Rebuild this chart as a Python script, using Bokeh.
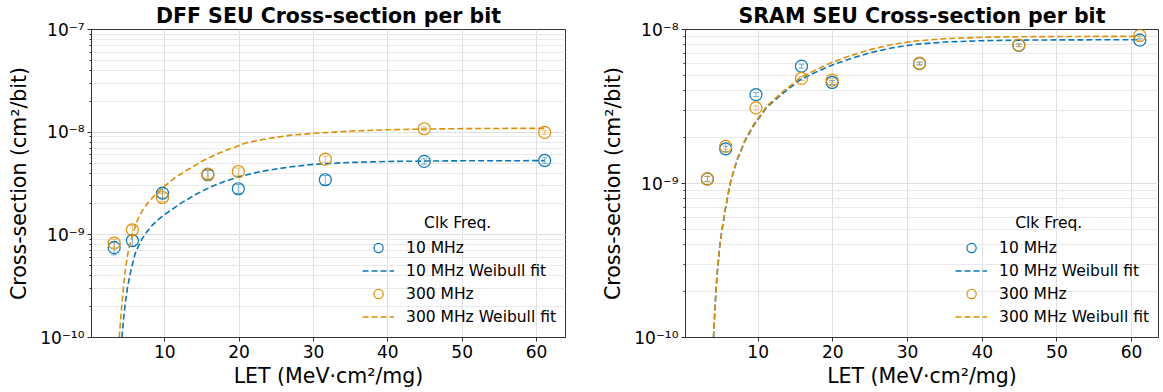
from bokeh.plotting import figure
from bokeh.layouts import row
from bokeh.models import (ColumnDataSource, Whisker, Label, LogTicker, FixedTicker,
                          CustomJSTickFormatter, Range1d, Legend, LegendItem, TeeHead)
from bokeh.embed import file_html
from bokeh.resources import INLINE

# ---------------- data ----------------
LET = [3.2, 5.65, 9.7, 15.8, 19.9, 31.6, 44.9, 61.1]
X_TICKS = [10, 20, 30, 40, 50, 60]

# DFF measured cross-sections (cm^2/bit)
DFF_10MHZ = [7.5e-10, 8.8e-10, 2.55e-9, 3.85e-9, 2.81e-9, 3.44e-9, 5.19e-9, 5.3e-9]
DFF_300MHZ = [8.3e-10, 1.12e-9, 2.31e-9, 3.91e-9, 4.14e-9, 5.47e-9, 1.08e-8, 9.95e-9]
DFF_10MHZ_RELERR = [0.15, 0.12, 0.10, 0.10, 0.10, 0.10, 0.06, 0.06]
DFF_300MHZ_RELERR = [0.09, 0.10, 0.09, 0.09, 0.08, 0.07, 0.04, 0.04]

# DFF Weibull fit curves
DFF_FIT10_X = [4.24, 4.5, 4.69, 5.0, 5.45, 6.03, 6.5, 6.93, 7.6, 8.37, 9.1, 9.93, 11.0, 12.4,
               14.2, 16.2, 18.0, 20.0, 22.0, 24.0, 27.0, 30.0, 35.0, 40.0, 45.0, 50.0, 55.0,
               61.1]
DFF_FIT10_Y = [1.0e-10, 1.6e-10, 2.15e-10, 3.1e-10, 4.5e-10, 6.6e-10, 7.9e-10, 9.1e-10,
               1.07e-9, 1.25e-9, 1.4e-9, 1.57e-9, 1.77e-9, 2.08e-9, 2.48e-9, 2.93e-9, 3.3e-9,
               3.68e-9, 4.0e-9, 4.27e-9, 4.6e-9, 4.86e-9, 5.08e-9, 5.18e-9, 5.23e-9, 5.26e-9,
               5.27e-9, 5.28e-9]
DFF_FIT300_X = [3.88, 4.24, 4.69, 5.1, 5.59, 6.35, 7.0, 7.7, 8.8, 9.93, 11.5, 13.1, 15.2,
                17.3, 20.9, 23.6, 27.0, 30.1, 35.0, 40.1, 45.0, 50.0, 55.0, 61.1]
DFF_FIT300_Y = [1.0e-10, 2.15e-10, 4.54e-10, 7.0e-10, 9.6e-10, 1.4e-9, 1.72e-9, 2.04e-9,
                2.5e-9, 2.96e-9, 3.65e-9, 4.3e-9, 5.3e-9, 6.26e-9, 7.85e-9, 8.6e-9, 9.35e-9,
                9.75e-9, 1.025e-8, 1.055e-8, 1.072e-8, 1.082e-8, 1.087e-8, 1.09e-8]

# SRAM measured cross-sections (cm^2/bit)
SRAM_10MHZ = [1.07e-9, 1.68e-9, 3.78e-9, 5.78e-9, 4.53e-9, 6.0e-9, 7.9e-9, 8.53e-9]
SRAM_300MHZ = [1.07e-9, 1.74e-9, 3.1e-9, 4.81e-9, 4.69e-9, 6.04e-9, 7.92e-9, 9.16e-9]
SRAM_10MHZ_RELERR = [0.04, 0.04, 0.03, 0.03, 0.03, 0.02, 0.02, 0.02]
SRAM_300MHZ_RELERR = [0.04, 0.04, 0.03, 0.03, 0.03, 0.02, 0.02, 0.02]

# SRAM Weibull fit curves
SRAM_FIT_X = [4.02, 4.2, 4.47, 4.91, 5.58, 6.25, 7.15, 8.26, 9.37, 11.16, 13.39, 15.62, 18.0,
              20.0, 22.3, 25.0, 28.0, 31.0, 35.0, 40.0, 45.0, 50.0, 55.0, 61.1]
SRAM_FIT10_Y = [1.0e-10, 1.5e-10, 2.47e-10, 4.15e-10, 6.7e-10, 1.0e-9, 1.41e-9, 1.9e-9,
                2.37e-9, 3.13e-9, 3.88e-9, 4.71e-9, 5.36e-9, 5.9e-9, 6.45e-9, 7.07e-9, 7.62e-9,
                8.01e-9, 8.29e-9, 8.46e-9, 8.53e-9, 8.56e-9, 8.57e-9, 8.58e-9]
SRAM_FIT300_Y = [1.0e-10, 1.5e-10, 2.49e-10, 4.2e-10, 6.77e-10, 1.01e-9, 1.43e-9, 1.93e-9,
                 2.41e-9, 3.18e-9, 3.98e-9, 4.86e-9, 5.55e-9, 6.15e-9, 6.75e-9, 7.4e-9, 8.0e-9,
                 8.42e-9, 8.72e-9, 8.9e-9, 8.97e-9, 9.0e-9, 9.02e-9, 9.03e-9]

SERIES_LABELS = ["10 MHz", "10 MHz Weibull fit", "300 MHz", "300 MHz Weibull fit"]
LEGEND_TITLE = "Clk Freq."

BLUE = "#0a75b8"
ORANGE = "#DE8F05"
FONT = "DejaVu Sans"

SUP_CODE = """
const e = Math.round(Math.log10(tick));
const m = {'-':'\u207b','0':'\u2070','1':'\u00b9','2':'\u00b2','3':'\u00b3','4':'\u2074',
           '5':'\u2075','6':'\u2076','7':'\u2077','8':'\u2078','9':'\u2079'};
return '10' + String(e).split('').map(c => m[c]).join('');
"""


def make_panel(title, x_lo, x_hi, y_lo, y_hi, width, border_right, pts10, err10, pts300,
               err300, fit10x, fit10y, fit300x, fit300y, legend_title_xy):
    p = figure(width=width, height=392, title=title,
               x_range=Range1d(x_lo, x_hi), y_range=Range1d(y_lo, y_hi),
               y_axis_type="log", output_backend="svg", toolbar_location=None,
               min_border_left=91, min_border_right=border_right,
               min_border_top=29, min_border_bottom=55)
    p.background_fill_color = "white"
    p.border_fill_color = "white"
    p.outline_line_color = "#333333"
    p.outline_line_width = 1

    p.title.text_font = FONT
    p.title.text_font_size = "20.5px"
    p.title.text_font_style = "bold"
    p.title.align = "center"
    p.title.standoff = 3
    p.title.text_color = "black"

    # axes
    p.xaxis.ticker = FixedTicker(ticks=X_TICKS)
    p.yaxis.ticker = LogTicker(num_minor_ticks=10)
    p.yaxis.formatter = CustomJSTickFormatter(code=SUP_CODE)
    p.xaxis.axis_label = "LET (MeV\u00b7cm\u00b2/mg)"
    p.yaxis.axis_label = "Cross-section (cm\u00b2/bit)"
    for ax in (p.xaxis, p.yaxis):
        ax.axis_label_text_font = FONT
        ax.axis_label_text_font_size = "20.5px"
        ax.axis_label_text_font_style = "normal"
        ax.axis_label_text_color = "black"
        ax.major_label_text_font = FONT
        ax.major_label_text_font_size = "17px"
        ax.major_label_text_color = "black"
        ax.axis_line_color = "#333333"
        ax.major_tick_line_color = "#333333"
        ax.major_tick_out = 4
        ax.major_tick_in = 0
    p.xaxis.minor_tick_line_color = None
    p.yaxis.minor_tick_line_color = "#333333"
    p.yaxis.minor_tick_out = 2
    p.yaxis.minor_tick_in = 0
    p.xaxis.major_label_standoff = 3
    p.xaxis.axis_label_standoff = 3
    p.yaxis.major_label_standoff = 3
    p.yaxis.axis_label_standoff = 6

    # grids
    p.xgrid.grid_line_color = "#e0e0e0"
    p.ygrid.grid_line_color = "#e0e0e0"
    p.ygrid.minor_grid_line_color = "#eaeaea"
    p.xgrid.grid_line_width = 1
    p.ygrid.grid_line_width = 1

    renderers = []
    for pts, err, fx, fy, col in ((pts10, err10, fit10x, fit10y, BLUE),
                                  (pts300, err300, fit300x, fit300y, ORANGE)):
        src = ColumnDataSource(dict(x=LET, y=pts,
                                    upper=[v * (1 + e) for v, e in zip(pts, err)],
                                    lower=[v * (1 - e) for v, e in zip(pts, err)]))
        wh = Whisker(source=src, base="x", upper="upper", lower="lower", dimension="height",
                     line_color=col, line_alpha=0.55, line_width=1,
                     upper_head=TeeHead(size=6, line_color=col, line_alpha=0.55, line_width=1),
                     lower_head=TeeHead(size=6, line_color=col, line_alpha=0.55, line_width=1))
        p.add_layout(wh)
        r_pts = p.scatter("x", "y", source=src, marker="circle", size=12,
                          fill_color=None, line_color=col, line_width=1.2)
        r_fit = p.line(fx, fy, line_color=col, line_width=1.6, line_dash="6 3")
        renderers += [r_pts, r_fit]

    items = [LegendItem(label=lab, renderers=[r]) for lab, r in zip(SERIES_LABELS, renderers)]
    legend = Legend(items=items, location="bottom_right")
    legend.label_text_font = FONT
    legend.label_text_font_size = "15.5px"
    legend.label_text_color = "black"
    legend.background_fill_alpha = 0
    legend.border_line_color = None
    legend.glyph_width = 32
    legend.glyph_height = 23
    legend.spacing = 0
    legend.label_standoff = 12
    legend.padding = 4
    legend.margin = 9
    legend.label_height = 20
    p.add_layout(legend)

    p.add_layout(Label(x=legend_title_xy[0], y=legend_title_xy[1], text=LEGEND_TITLE,
                       text_align="center", text_baseline="middle",
                       text_font=FONT, text_font_size="15.5px", text_color="black"))
    return p


p1 = make_panel("DFF SEU Cross-section per bit", 0.15, 63.9, 1e-10, 1e-7, 594, 29,
                DFF_10MHZ, DFF_10MHZ_RELERR, DFF_300MHZ, DFF_300MHZ_RELERR,
                DFF_FIT10_X, DFF_FIT10_Y, DFF_FIT300_X, DFF_FIT300_Y, (49.4, 1.29e-9))
p2 = make_panel("SRAM SEU Cross-section per bit", 0.27, 63.6, 1e-10, 1e-8, 569, 5,
                SRAM_10MHZ, SRAM_10MHZ_RELERR, SRAM_300MHZ, SRAM_300MHZ_RELERR,
                SRAM_FIT_X, SRAM_FIT10_Y, SRAM_FIT_X, SRAM_FIT300_Y, (48.9, 5.5e-10))

layout = row(p1, p2, spacing=0)
open("out.html", "w").write(file_html(layout, INLINE))
